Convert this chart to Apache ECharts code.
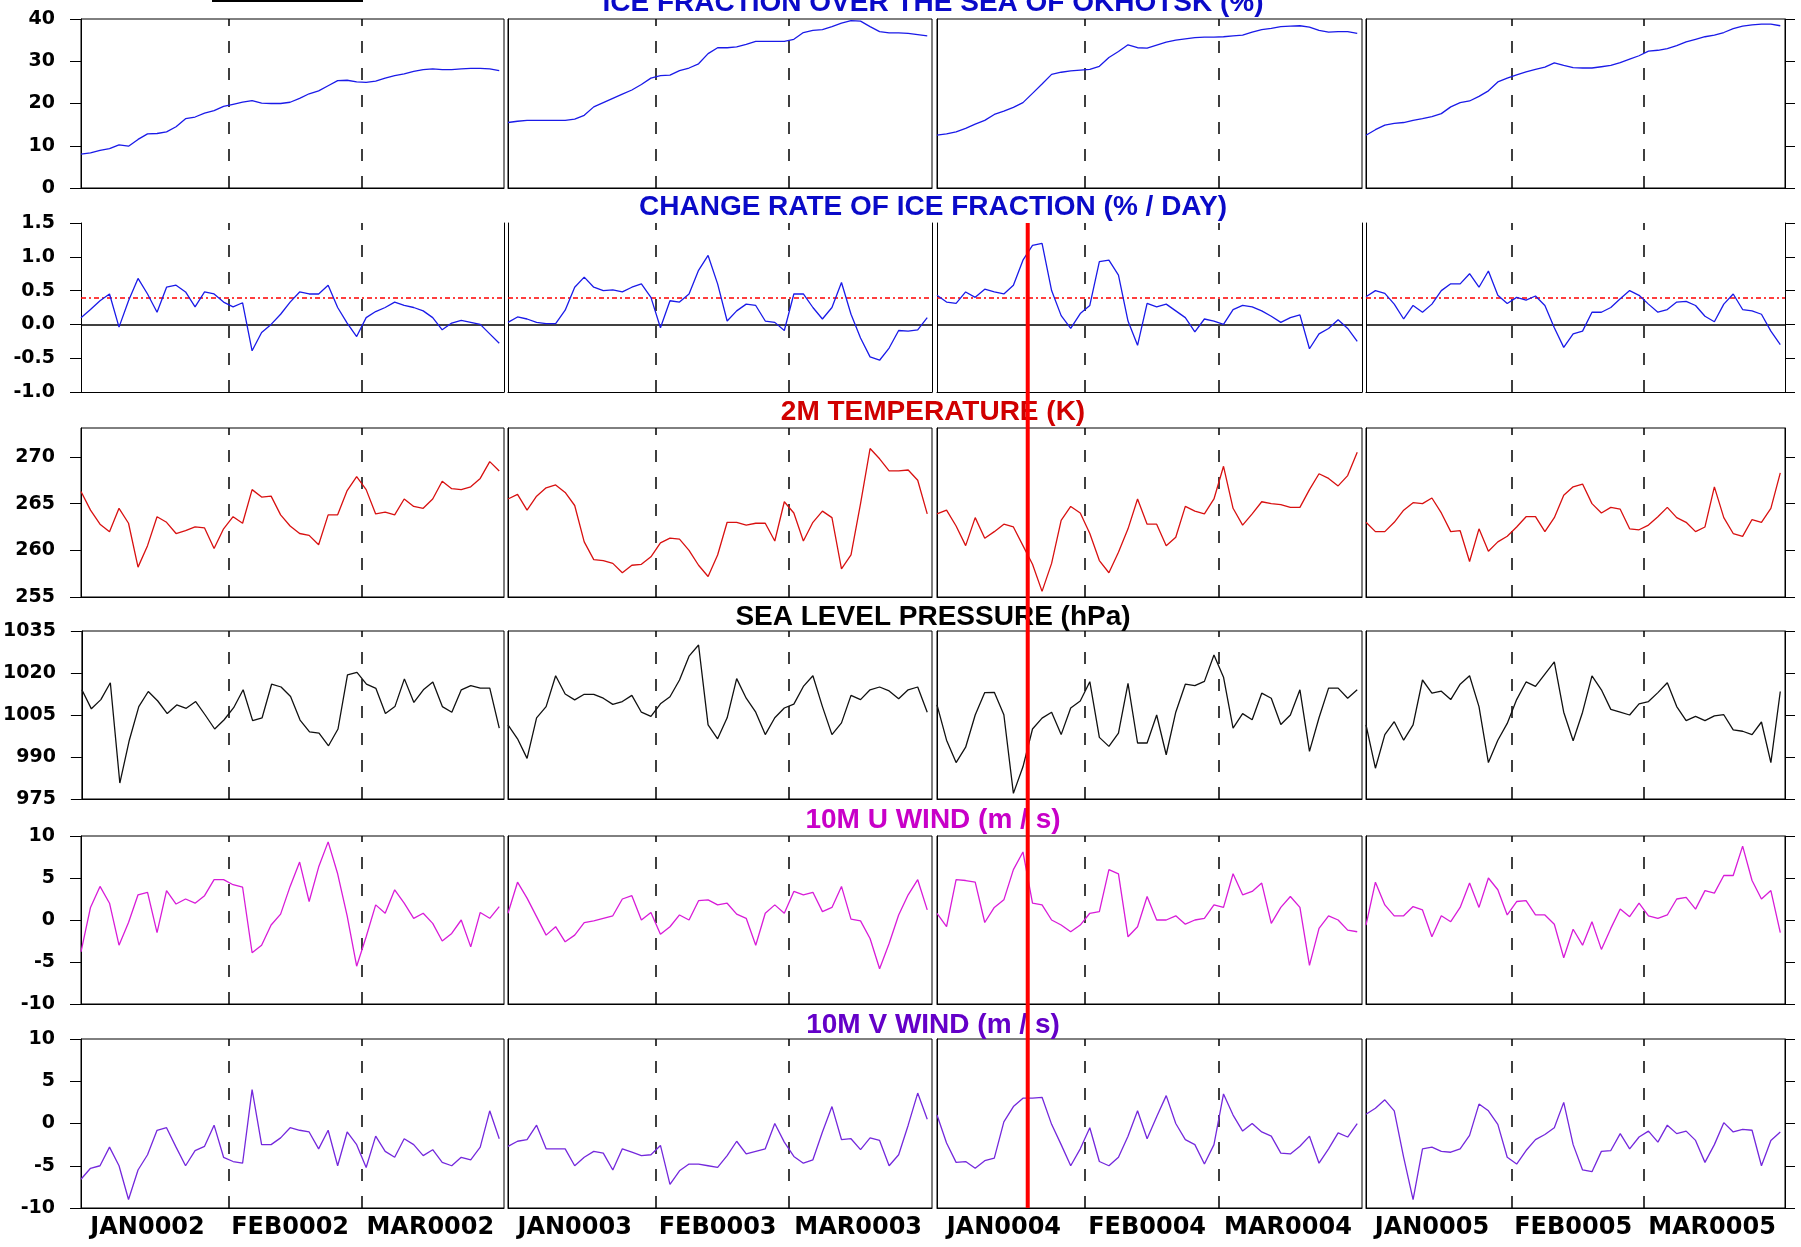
<!DOCTYPE html>
<html><head><meta charset="utf-8">
<script src="https://cdn.jsdelivr.net/npm/echarts@6/dist/echarts.min.js"></script>
<style>html,body{margin:0;padding:0;background:#fff}#c{width:1801px;height:1247px}</style>
</head><body><div id="c"></div>
<script>
// ---------------- data ----------------
const years = ['0002', '0003', '0004', '0005'];
const monthNames = ['JAN', 'FEB', 'MAR'];
const monthLabelDays = [14, 44, 73.5];
const monthStartDays = [31, 59];
const dayStep = 2;          // one value every 2 days, from Jan 1
const markedDay = 19;       // red vertical marker in JAN0004
const rateThreshold = 0.4;

const iceFraction = [
  [8.0,8.3,8.9,9.3,10.2,9.9,11.5,12.8,12.9,13.3,14.5,16.4,16.8,17.7,18.3,19.3,19.8,20.3,20.7,20.1,20.0,20.0,20.3,21.2,22.3,23.0,24.2,25.4,25.5,25.1,25.0,25.3,26.0,26.6,27.0,27.6,28.0,28.2,28.0,28.0,28.2,28.3,28.3,28.2,27.8],
  [15.5,15.8,16.0,16.0,16.0,16.0,16.0,16.3,17.2,19.2,20.2,21.2,22.2,23.2,24.5,26.0,26.6,26.7,27.8,28.4,29.4,31.8,33.2,33.2,33.4,34.0,34.7,34.7,34.7,34.7,35.2,36.8,37.3,37.5,38.2,39.0,39.6,39.5,38.2,37.0,36.7,36.7,36.6,36.3,36.0],
  [12.5,12.8,13.3,14.1,15.1,16.0,17.4,18.2,19.1,20.2,22.4,24.6,26.9,27.4,27.7,27.9,28.1,28.8,30.9,32.3,33.9,33.2,33.1,33.8,34.5,35.0,35.3,35.6,35.7,35.7,35.8,36.0,36.2,36.9,37.5,37.8,38.2,38.3,38.4,38.1,37.3,36.9,37.0,37.0,36.6],
  [12.5,13.8,14.9,15.3,15.5,16.0,16.4,16.9,17.6,19.2,20.2,20.6,21.7,23.0,25.1,26.0,26.8,27.5,28.1,28.6,29.6,29.0,28.5,28.4,28.4,28.7,29.0,29.7,30.5,31.3,32.4,32.6,33.0,33.7,34.6,35.2,35.8,36.2,36.8,37.7,38.3,38.6,38.8,38.8,38.4]
];
const iceRate = [
  [0.10,0.22,0.35,0.45,-0.04,0.35,0.68,0.45,0.18,0.55,0.58,0.48,0.26,0.48,0.45,0.33,0.26,0.32,-0.39,-0.12,0.0,0.15,0.33,0.48,0.45,0.45,0.58,0.25,0.02,-0.18,0.10,0.19,0.25,0.33,0.28,0.25,0.20,0.10,-0.08,0.02,0.06,0.03,0.0,-0.14,-0.28],
  [0.03,0.11,0.08,0.03,0.01,0.01,0.21,0.55,0.70,0.55,0.50,0.51,0.48,0.55,0.60,0.40,-0.05,0.35,0.33,0.45,0.80,1.02,0.60,0.05,0.20,0.30,0.28,0.05,0.03,-0.09,0.45,0.45,0.25,0.08,0.25,0.62,0.15,-0.20,-0.48,-0.53,-0.35,-0.09,-0.10,-0.08,0.10],
  [0.43,0.33,0.31,0.48,0.40,0.52,0.48,0.45,0.58,0.95,1.17,1.20,0.50,0.13,-0.06,0.16,0.28,0.93,0.95,0.73,0.05,-0.31,0.31,0.26,0.30,0.20,0.10,-0.11,0.08,0.05,0.0,0.22,0.28,0.26,0.20,0.12,0.03,0.10,0.14,-0.36,-0.14,-0.06,0.07,-0.06,-0.25],
  [0.41,0.50,0.46,0.30,0.08,0.28,0.18,0.30,0.50,0.60,0.60,0.75,0.55,0.79,0.43,0.31,0.40,0.36,0.42,0.28,-0.05,-0.34,-0.14,-0.10,0.18,0.18,0.25,0.38,0.50,0.43,0.30,0.18,0.22,0.33,0.34,0.28,0.12,0.04,0.30,0.45,0.22,0.20,0.15,-0.10,-0.30]
];
const temperature2m = [
  [266.3,264.3,262.8,262.0,264.5,262.9,258.2,260.5,263.6,263.0,261.8,262.1,262.5,262.4,260.2,262.3,263.6,262.9,266.5,265.7,265.8,263.8,262.6,261.8,261.6,260.6,263.8,263.8,266.4,267.9,266.5,263.9,264.1,263.8,265.5,264.7,264.5,265.5,267.4,266.6,266.5,266.8,267.7,269.5,268.5],
  [265.5,266.0,264.3,265.8,266.7,267.0,266.2,264.8,260.9,259.0,258.9,258.6,257.6,258.4,258.5,259.3,260.8,261.3,261.2,260.0,258.4,257.2,259.5,263.0,263.0,262.7,262.9,262.9,261.0,265.2,264.0,261.0,263.0,264.2,263.5,258.0,259.5,265.0,270.9,269.8,268.5,268.5,268.6,267.5,263.9],
  [263.9,264.3,262.6,260.5,263.5,261.3,262.0,262.8,262.5,260.5,258.5,255.6,258.6,263.2,264.7,264.0,261.8,258.9,257.6,259.8,262.3,265.5,262.8,262.8,260.5,261.4,264.7,264.2,263.9,265.5,269.0,264.5,262.7,263.9,265.2,265.0,264.9,264.6,264.6,266.5,268.2,267.7,266.9,268.0,270.5],
  [263.0,262.0,262.0,263.0,264.3,265.1,265.0,265.6,264.0,262.0,262.1,258.8,262.3,259.9,260.9,261.5,262.5,263.6,263.6,262.0,263.5,265.9,266.8,267.1,265.0,264.0,264.6,264.4,262.3,262.2,262.7,263.6,264.6,263.5,263.0,262.0,262.5,266.8,263.5,261.8,261.5,263.3,263.0,264.5,268.3]
];
const seaLevelPressure = [
  [1014.0,1007.2,1010.5,1016.5,980.7,996.0,1008.0,1013.4,1010.0,1005.5,1008.6,1007.4,1009.8,1005.0,1000.0,1003.3,1007.6,1014.0,1003.0,1004.0,1016.0,1015.0,1011.6,1003.2,999.0,998.5,994.0,1000.0,1019.3,1020.2,1016.0,1014.5,1005.5,1008.0,1017.9,1009.5,1014.0,1016.8,1008.0,1006.0,1014.0,1015.5,1014.6,1014.6,1000.3],
  [1001.5,996.5,989.5,1004.0,1008.0,1019.0,1012.5,1010.4,1012.4,1012.4,1011.0,1008.8,1009.8,1012.0,1006.0,1004.5,1009.0,1011.5,1017.5,1026.0,1030.0,1001.5,996.5,1004.0,1018.0,1011.0,1006.0,998.0,1004.0,1007.5,1008.9,1015.2,1019.0,1008.0,998.0,1002.2,1012.0,1010.5,1014.0,1015.0,1013.6,1010.8,1014.0,1015.0,1006.0],
  [1008.6,996.0,988.0,993.5,1005.0,1013.0,1013.1,1005.1,977.0,986.5,1000.0,1003.9,1006.0,998.0,1007.5,1010.0,1016.9,997.0,993.8,998.5,1016.3,995.0,995.0,1005.0,990.8,1006.0,1016.0,1015.5,1017.0,1026.4,1018.5,1000.3,1005.5,1003.3,1012.8,1011.0,1001.6,1005.0,1014.0,992.0,1004.0,1014.6,1014.6,1011.0,1014.0],
  [1001.5,986.0,998.0,1002.6,996.0,1001.5,1017.5,1012.8,1013.5,1010.5,1016.0,1019.0,1008.0,988.0,996.0,1002.0,1010.5,1016.8,1015.2,1019.6,1024.0,1006.0,995.8,1006.0,1019.0,1014.0,1007.0,1006.0,1005.0,1009.0,1009.8,1013.0,1016.5,1008.0,1003.0,1004.5,1003.0,1004.7,1005.1,999.7,999.2,998.0,1002.5,988.0,1013.4]
];
const uWind10m = [
  [-3.8,1.5,4.0,2.0,-3.0,-0.3,3.0,3.3,-1.5,3.5,1.9,2.5,2.0,2.9,4.8,4.8,4.2,3.9,-3.9,-3.0,-0.6,0.7,4.0,6.9,2.2,6.3,9.3,5.5,0.5,-5.5,-2.0,1.8,0.8,3.6,2.0,0.2,0.8,-0.4,-2.5,-1.6,0.0,-3.2,0.9,0.2,1.6],
  [0.8,4.5,2.6,0.4,-1.8,-0.8,-2.6,-1.8,-0.3,-0.1,0.2,0.5,2.5,2.9,0.0,0.9,-1.7,-0.8,0.6,0.0,2.3,2.4,1.8,2.0,0.7,0.2,-3.0,0.8,1.8,0.8,3.4,3.0,3.3,1.0,1.5,4.0,0.1,-0.1,-2.2,-5.8,-2.8,0.6,3.0,4.8,1.2],
  [0.8,-0.8,4.8,4.7,4.5,-0.3,1.5,2.4,6.0,8.1,2.0,1.8,0.0,-0.6,-1.4,-0.6,0.8,1.0,6.0,5.5,-2.0,-0.8,2.8,0.0,0.0,0.5,-0.5,0.0,0.2,1.8,1.5,5.5,3.0,3.4,4.4,-0.4,1.5,2.8,1.5,-5.4,-1.0,0.5,0.0,-1.2,-1.4],
  [-0.6,4.5,1.8,0.5,0.5,1.6,1.2,-2.0,0.5,-0.2,1.5,4.4,1.5,5.0,3.6,0.6,2.2,2.3,0.6,0.6,-0.5,-4.5,-1.1,-3.0,-0.2,-3.5,-1.0,1.3,0.4,2.0,0.5,0.2,0.6,2.5,2.7,1.3,3.5,3.2,5.3,5.3,8.8,4.7,2.5,3.5,-1.5]
];
const vWind10m = [
  [-6.6,-5.3,-5.0,-2.8,-5.0,-9.0,-5.5,-3.7,-0.8,-0.5,-2.8,-5.0,-3.2,-2.7,-0.2,-4.0,-4.5,-4.7,4.0,-2.5,-2.5,-1.7,-0.5,-0.8,-1.0,-3.0,-0.8,-5.0,-1.0,-2.5,-5.2,-1.5,-3.3,-4.0,-1.8,-2.5,-3.8,-3.1,-4.6,-5.0,-4.0,-4.3,-2.8,1.5,-1.8],
  [-2.7,-2.1,-1.9,-0.2,-3.0,-3.0,-3.0,-5.0,-4.0,-3.3,-3.5,-5.5,-3.0,-3.4,-3.8,-3.7,-2.6,-7.2,-5.6,-4.8,-4.8,-5.0,-5.2,-3.8,-2.1,-3.6,-3.3,-3.0,0.0,-2.2,-3.9,-4.7,-4.3,-1.0,2.0,-1.9,-1.8,-3.1,-1.7,-2.0,-5.0,-3.7,-0.2,3.6,0.5],
  [1.0,-2.3,-4.6,-4.5,-5.3,-4.4,-4.1,0.2,2.0,3.0,3.0,3.1,-0.1,-2.5,-5.0,-3.0,-0.5,-4.5,-5.0,-4.0,-1.5,1.5,-1.8,0.8,3.3,0.0,-1.9,-2.5,-4.8,-2.5,3.5,1.0,-0.9,0.0,-1.0,-1.5,-3.5,-3.6,-2.7,-1.5,-4.7,-3.0,-1.1,-1.6,0.0],
  [1.1,1.8,2.8,1.5,-4.0,-9.0,-3.0,-2.8,-3.3,-3.4,-3.0,-1.4,2.3,1.5,-0.1,-4.0,-4.8,-3.2,-1.9,-1.3,-0.5,2.5,-2.5,-5.5,-5.7,-3.3,-3.2,-1.2,-3.0,-1.6,-0.9,-2.2,-0.2,-1.2,-0.9,-2.0,-4.6,-2.5,0.1,-1.0,-0.7,-0.8,-5.0,-2.0,-1.0]
];

const tickIce = [0, 10, 20, 30, 40];
const tickRate = [-1, -0.5, 0, 0.5, 1, 1.5];
const tickTemp = [255, 260, 265, 270];
const tickSlp = [975, 990, 1005, 1020, 1035];
const tickWind = [-10, -5, 0, 5, 10];

// ---------------- panel styling ----------------
const panels = [
  {title: 'ICE FRACTION OVER THE SEA OF OKHOTSK (%)', data: iceFraction, min: 0, max: 40, interval: 10, ticks: tickIce, digits: 0, line: '#1a1ae8', text: '#0a0ac8'},
  {title: 'CHANGE RATE OF ICE FRACTION (% / DAY)', data: iceRate, min: -1, max: 1.5, interval: 0.5, ticks: tickRate, digits: 1, line: '#1a1ae8', text: '#0a0ac8'},
  {title: '2M TEMPERATURE (K)', data: temperature2m, min: 255, max: 273.1, interval: 5, ticks: tickTemp, digits: 0, line: '#d81010', text: '#d00000'},
  {title: 'SEA LEVEL PRESSURE (hPa)', data: seaLevelPressure, min: 975, max: 1035, interval: 15, ticks: tickSlp, digits: 0, line: '#101010', text: '#000000'},
  {title: '10M U WIND (m / s)', data: uWind10m, min: -10, max: 10, interval: 5, ticks: tickWind, digits: 0, line: '#d81cd8', text: '#c800c8'},
  {title: '10M V WIND (m / s)', data: vWind10m, min: -10, max: 10, interval: 5, ticks: tickWind, digits: 0, line: '#7428dc', text: '#6400c8'}
];

const colLeft = [81, 508, 937, 1366];
const colWidth = [423, 424, 425, 419];
const rowTop = [19, 223, 428, 631, 836, 1039];
const rowHeight = [169, 169, 169, 168, 168, 169];
const titleY = [3, 207, 412, 617, 820, 1025];

const yLabelFont = {fontFamily: '"DejaVu Sans", sans-serif', fontWeight: 'bold', fontSize: 19, color: '#000'};

const grids = [], xAxes = [], yAxes = [], series = [];
panels.forEach((p, r) => {
  for (let c = 0; c < 4; c++) {
    const gi = r * 4 + c;
    grids.push({left: colLeft[c], top: rowTop[r], width: colWidth[c], height: rowHeight[r],
      show: r !== 1, borderColor: '#000', borderWidth: 1, backgroundColor: 'transparent'});
    const xLabel = r === 5 ? {
      show: true, customValues: monthLabelDays, margin: 8,
      fontFamily: '"DejaVu Sans", sans-serif', fontWeight: 'bold', fontSize: 24, color: '#000',
      formatter: v => monthNames[monthLabelDays.indexOf(v)] + years[c]
    } : {show: false};
    xAxes.push({gridIndex: gi, type: 'value', min: 0, max: 89,
      axisLine: {show: true, onZero: false, lineStyle: {color: '#000', width: 1}},
      axisTick: {show: false}, splitLine: {show: false}, axisLabel: xLabel});
    yAxes.push({gridIndex: gi, type: 'value', min: p.min, max: p.max, interval: p.interval, position: 'left',
      axisLine: {show: true, onZero: false, lineStyle: {color: '#000', width: 1}},
      axisTick: {show: c === 0, length: 11, customValues: p.ticks, lineStyle: {color: '#000', width: 1}},
      axisLabel: Object.assign({show: c === 0, customValues: p.ticks, margin: 26,
        formatter: v => Number(v).toFixed(p.digits)}, yLabelFont),
      splitLine: {show: false}});
    const ml = monthStartDays.map(d => ({xAxis: d, lineStyle: {type: [12, 15], color: '#000', width: 1.5}}));
    if (r === 1) {
      ml.push({yAxis: 0, lineStyle: {type: 'solid', color: '#000', width: 1.5}});
      ml.push({yAxis: rateThreshold, lineStyle: {type: [5, 3, 2, 3], color: '#ff0000', width: 1.5}});
    }
    series.push({type: 'line', xAxisIndex: gi, yAxisIndex: gi,
      data: p.data[c].map((v, i) => [i * dayStep, v]),
      showSymbol: false, symbol: 'none', lineStyle: {color: p.line, width: 1.3}, z: 3,
      markLine: {silent: true, symbol: ['none', 'none'], label: {show: false}, data: ml, animation: false, z: 2}});
  }
});
// right-side axes: full right border for the change-rate row, outward ticks on the last column
panels.forEach((p, r) => {
  for (let c = 0; c < 4; c++) {
    if (!(r === 1 || c === 3)) continue;
    const gi = r * 4 + c;
    yAxes.push({gridIndex: gi, type: 'value', min: p.min, max: p.max, interval: p.interval, position: 'right',
      axisLine: {show: true, onZero: false, lineStyle: {color: '#000', width: 1}},
      axisTick: {show: c === 3, length: 10, customValues: p.ticks, lineStyle: {color: '#000', width: 1}},
      axisLabel: {show: false}, splitLine: {show: false}});
  }
});

const centerX = (colLeft[0] + colLeft[3] + colWidth[3]) / 2;
const graphics = panels.map((p, r) => ({
  id: 'title' + r, type: 'text', x: centerX, y: titleY[r], z: 50,
  style: {text: p.title, fill: p.text, font: 'bold 28px "Liberation Sans", Arial, sans-serif', align: 'center', verticalAlign: 'middle'}
}));
graphics.push({id: 'topbar', type: 'rect', shape: {x: 212, y: 0, width: 151, height: 2}, style: {fill: '#000'}, z: 50});

const chart = echarts.init(document.getElementById('c'), null, {width: 1801, height: 1247, renderer: 'canvas'});
chart.setOption({
  animation: false, backgroundColor: '#fff',
  grid: grids, xAxis: xAxes, yAxis: yAxes, series: series, graphic: graphics
});

// red vertical marker through panels 2-6 at the marked day of the third year
const topPt = chart.convertToPixel({gridIndex: 1 * 4 + 2}, [markedDay, panels[1].max]);
const botPt = chart.convertToPixel({gridIndex: 5 * 4 + 2}, [markedDay, panels[5].min]);
chart.setOption({graphic: graphics.concat([{id: 'marker', type: 'line', z: 100,
  shape: {x1: topPt[0], y1: topPt[1], x2: topPt[0], y2: botPt[1]},
  style: {stroke: '#ff0000', lineWidth: 4}}])});
</script></body></html>
